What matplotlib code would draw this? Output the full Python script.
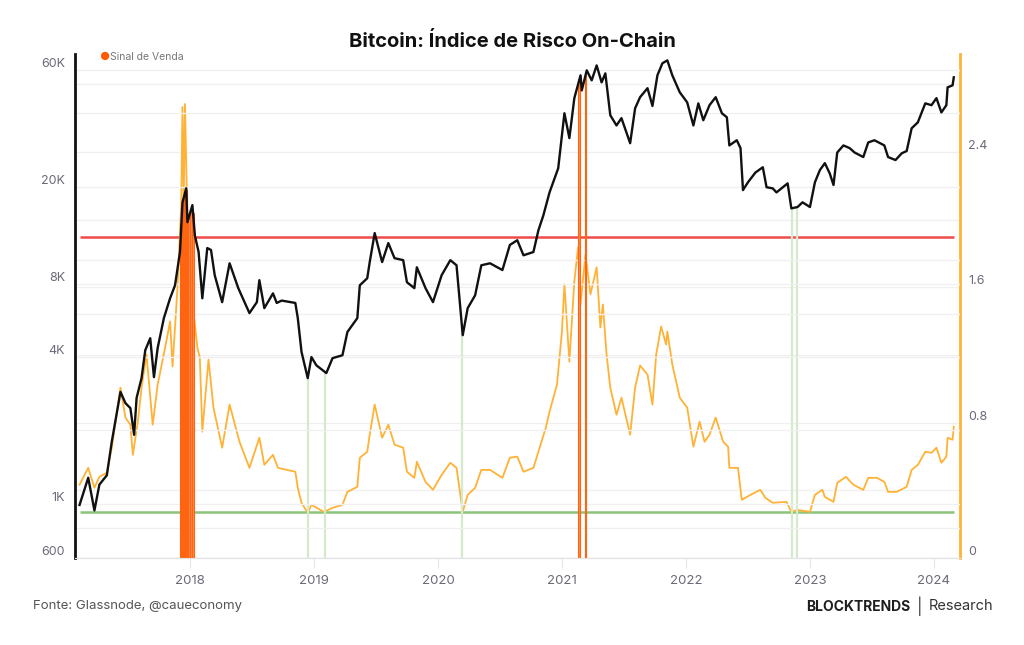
import numpy as np
import matplotlib
matplotlib.use("Agg")
import matplotlib.pyplot as plt
from matplotlib.ticker import NullLocator

plt.rcParams['font.family'] = ['Inter', 'DejaVu Sans']

# BTC price (USD), dates in decimal years
price_dates = [2017.11, 2017.18, 2017.23, 2017.27, 2017.33, 2017.37, 2017.44, 2017.48, 2017.52, 2017.55,
               2017.57, 2017.61, 2017.64, 2017.68, 2017.71, 2017.74, 2017.79, 2017.84, 2017.88, 2017.92,
               2017.94, 2017.97, 2017.98, 2018.02, 2018.04, 2018.07, 2018.10, 2018.14, 2018.17, 2018.20,
               2018.26, 2018.32, 2018.39, 2018.48, 2018.54, 2018.56, 2018.60, 2018.67, 2018.70, 2018.74,
               2018.85, 2018.87, 2018.90, 2018.95, 2018.98, 2019.02, 2019.10, 2019.15, 2019.23, 2019.27,
               2019.35, 2019.37, 2019.43, 2019.45, 2019.49, 2019.55, 2019.60, 2019.65, 2019.72, 2019.75,
               2019.81, 2019.83, 2019.90, 2019.96, 2020.03, 2020.10, 2020.15, 2020.20, 2020.24, 2020.30,
               2020.35, 2020.42, 2020.52, 2020.58, 2020.64, 2020.69, 2020.77, 2020.81, 2020.85, 2020.90,
               2020.97, 2021.02, 2021.06, 2021.10, 2021.15, 2021.16, 2021.20, 2021.24, 2021.28, 2021.32,
               2021.35, 2021.39, 2021.44, 2021.48, 2021.55, 2021.59, 2021.63, 2021.69, 2021.73, 2021.77,
               2021.81, 2021.85, 2021.89, 2021.95, 2022.01, 2022.06, 2022.10, 2022.14, 2022.19, 2022.24,
               2022.29, 2022.33, 2022.35, 2022.41, 2022.44, 2022.46, 2022.50, 2022.56, 2022.62, 2022.65,
               2022.70, 2022.73, 2022.82, 2022.85, 2022.90, 2022.94, 2023.00, 2023.04, 2023.08, 2023.12,
               2023.16, 2023.19, 2023.22, 2023.27, 2023.32, 2023.36, 2023.43, 2023.47, 2023.52, 2023.60,
               2023.63, 2023.69, 2023.74, 2023.78, 2023.82, 2023.87, 2023.93, 2023.98, 2024.02, 2024.06,
               2024.10, 2024.11, 2024.15, 2024.16]
price_values = [990, 1280, 940, 1200, 1310, 1800, 2880, 2590, 2470, 1920,
                2720, 3280, 4270, 4780, 3310, 4360, 5780, 6970, 7880, 10800,
                17200, 19700, 14300, 16800, 12600, 10800, 6970, 11200, 11000, 8670,
                6720, 9700, 7670, 6060, 6720, 8270, 6350, 7300, 6670, 6820,
                6670, 5780, 4200, 3280, 4000, 3700, 3440, 3960, 4070, 5070,
                5780, 7880, 8420, 9810, 12900, 9810, 11740, 10180, 9990, 8110,
                7670, 9340, 7670, 6720, 8670, 9990, 9520, 4920, 6350, 7170,
                9520, 9700, 9100, 11530, 12060, 10460, 10790, 13230, 15240, 18940,
                23800, 40000, 31630, 46130, 57240, 49620, 59990, 54590, 62850, 53530,
                58300, 39250, 35650, 38190, 30150, 41900, 46550, 50680, 42850, 57240,
                64110, 65910, 57240, 48770, 44330, 35650, 43910, 37450, 43170, 46550,
                39990, 38510, 29520, 31000, 28780, 19360, 20840, 22850, 24020, 19890,
                19680, 18940, 20630, 16290, 16500, 17250, 16500, 20840, 23380, 24970,
                22640, 20310, 27610, 29520, 28780, 27610, 26450, 30360, 31000, 29520,
                26450, 25710, 27400, 28000, 34700, 36710, 43910, 43170, 46130, 40310,
                43170, 51100, 52050, 56180]

# On-chain risk index
risk_dates = [2017.11, 2017.18, 2017.23, 2017.27, 2017.33, 2017.37, 2017.44, 2017.48, 2017.52, 2017.54,
              2017.58, 2017.61, 2017.65, 2017.70, 2017.74, 2017.80, 2017.84, 2017.86, 2017.90, 2017.93,
              2017.94, 2017.95, 2017.96, 2017.98, 2018.02, 2018.06, 2018.08, 2018.10, 2018.15, 2018.19,
              2018.26, 2018.32, 2018.40, 2018.48, 2018.56, 2018.60, 2018.67, 2018.71, 2018.85, 2018.87,
              2018.90, 2018.95, 2018.98, 2019.08, 2019.15, 2019.23, 2019.27, 2019.35, 2019.37, 2019.43,
              2019.45, 2019.49, 2019.55, 2019.60, 2019.65, 2019.72, 2019.75, 2019.81, 2019.83, 2019.90,
              2019.96, 2020.03, 2020.10, 2020.15, 2020.20, 2020.24, 2020.30, 2020.35, 2020.42, 2020.52,
              2020.58, 2020.64, 2020.69, 2020.77, 2020.82, 2020.87, 2020.90, 2020.96, 2021.00, 2021.02,
              2021.06, 2021.10, 2021.13, 2021.15, 2021.19, 2021.23, 2021.28, 2021.31, 2021.33, 2021.36,
              2021.39, 2021.44, 2021.48, 2021.55, 2021.59, 2021.63, 2021.69, 2021.73, 2021.76, 2021.80,
              2021.84, 2021.85, 2021.89, 2021.95, 2022.01, 2022.06, 2022.11, 2022.15, 2022.19, 2022.24,
              2022.30, 2022.34, 2022.35, 2022.42, 2022.45, 2022.52, 2022.60, 2022.64, 2022.70, 2022.81,
              2022.85, 2022.90, 2023.00, 2023.04, 2023.10, 2023.12, 2023.19, 2023.22, 2023.29, 2023.35,
              2023.43, 2023.47, 2023.54, 2023.60, 2023.63, 2023.70, 2023.78, 2023.82, 2023.87, 2023.93,
              2023.98, 2024.02, 2024.06, 2024.10, 2024.11, 2024.15, 2024.16]
risk_values = [0.433, 0.533, 0.415, 0.480, 0.504, 0.652, 1.007, 0.830, 0.788, 0.610,
               0.806, 1.007, 1.203, 0.788, 1.025, 1.244, 1.399, 1.132, 1.600, 2.092,
               2.667, 2.100, 2.684, 1.991, 1.517, 1.244, 1.185, 0.747, 1.173, 0.889,
               0.652, 0.907, 0.687, 0.533, 0.711, 0.551, 0.610, 0.533, 0.510, 0.415,
               0.326, 0.267, 0.314, 0.273, 0.296, 0.314, 0.391, 0.421, 0.593, 0.628,
               0.729, 0.907, 0.711, 0.788, 0.670, 0.652, 0.510, 0.474, 0.569, 0.450,
               0.403, 0.492, 0.563, 0.533, 0.273, 0.373, 0.415, 0.521, 0.521, 0.474,
               0.593, 0.599, 0.510, 0.533, 0.652, 0.770, 0.865, 1.025, 1.339, 1.618,
               1.161, 1.636, 1.837, 1.499, 1.796, 1.559, 1.719, 1.363, 1.499, 1.203,
               1.007, 0.847, 0.948, 0.729, 1.007, 1.138, 1.084, 0.907, 1.203, 1.369,
               1.262, 1.339, 1.144, 0.948, 0.889, 0.658, 0.806, 0.687, 0.729, 0.830,
               0.687, 0.658, 0.533, 0.533, 0.344, 0.373, 0.403, 0.356, 0.326, 0.332,
               0.273, 0.284, 0.273, 0.373, 0.403, 0.361, 0.332, 0.444, 0.480, 0.433,
               0.403, 0.474, 0.474, 0.450, 0.391, 0.391, 0.421, 0.521, 0.551, 0.628,
               0.622, 0.652, 0.563, 0.599, 0.711, 0.699, 0.776]

sell_dates = [2017.930, 2017.936, 2017.942, 2017.948, 2017.954, 2017.960, 2017.966, 2017.972,
              2017.978, 2017.984, 2017.989, 2018.010, 2018.026, 2021.140, 2021.190]
buy_dates = [2018.95, 2019.09, 2020.196, 2022.855, 2022.895]

risk_high = 1.90
risk_low = 0.27

years = [2018, 2019, 2020, 2021, 2022, 2023, 2024]
price_ticks = [600, 800, 1000, 2000, 4000, 6000, 8000, 10000, 20000, 40000, 60000]
price_labels = ['600', '', '1K', '', '4K', '', '8K', '', '20K', '', '60K']
risk_ticks = [0, 0.4, 0.8, 1.2, 1.6, 2.0, 2.4, 2.8]
risk_labels = ['0', '', '0.8', '', '1.6', '', '2.4', '']

fig = plt.figure(figsize=(10.24, 6.45), dpi=100)
ax = fig.add_axes([0.0732, 0.1349, 0.9375 - 0.0732, 0.9163 - 0.1349])
ax2 = ax.twinx()
ax.set_zorder(ax2.get_zorder() + 1)
ax.patch.set_visible(False)

grid_c = '#f0f0f0'
lbl_c = '#6a6a78'

# risk axis (right)
ax2.plot(risk_dates, risk_values, color='#ffb235', lw=1.3, zorder=3)
ax2.hlines([risk_high], risk_dates[0], risk_dates[-1], color='#ef4b4b', lw=1.8, zorder=2)
ax2.hlines([risk_low], risk_dates[0], risk_dates[-1], color='#8cc47a', lw=1.8, zorder=2)
ax2.set_ylim(0, 2.98)
ax2.set_yticks(risk_ticks, risk_labels)
ax2.yaxis.set_minor_locator(NullLocator())
ax2.grid(axis='y', color=grid_c, lw=1, zorder=0)
ax2.set_axisbelow(True)

# price axis (left)
ax.set_yscale('log')
ax.set_ylim(600, 70000)
ax.set_xlim(2017.073, 2024.21)

buy_tops = np.interp(buy_dates, price_dates, price_values)
ax.vlines(buy_dates, 600, buy_tops, color='#d3ebcb', lw=1.6, zorder=1)
sell_tops = np.interp(sell_dates, price_dates, price_values)
ax.bar(sell_dates, sell_tops - 600, bottom=600, width=0.016, facecolor='#ff8a4c',
       edgecolor='#ff6410', lw=0.8, zorder=2)
ax.plot(price_dates, price_values, color='#111111', lw=1.7, zorder=3)

ax.set_yticks(price_ticks, price_labels)
ax.yaxis.set_minor_locator(NullLocator())
ax.grid(axis='y', color=grid_c, lw=1, zorder=0)
ax.set_xticks(years, [str(y) for y in years])
ax.xaxis.set_minor_locator(NullLocator())

for a in (ax, ax2):
    a.spines['top'].set_visible(False)
    a.spines['bottom'].set_color('#e4e4e4')
    a.spines['left'].set_visible(False)
    a.spines['right'].set_visible(False)
ax.spines['left'].set_visible(True)
ax.spines['left'].set_color('#111111')
ax.spines['left'].set_linewidth(2)
ax2.spines['right'].set_visible(True)
ax2.spines['right'].set_color('#ffb235')
ax2.spines['right'].set_linewidth(2)

ax.tick_params(axis='y', length=0, pad=7, labelsize=9, labelcolor=lbl_c)
ax2.tick_params(axis='y', length=0, pad=6, labelsize=9, labelcolor=lbl_c)
ax.tick_params(axis='x', length=7, color='#e6e6e6', pad=5, labelsize=9.5, labelcolor=lbl_c)
for lab in ax.get_yticklabels() + ax2.get_yticklabels():
    lab.set_va('bottom')

fig.text(0.5, 0.935, 'Bitcoin: Índice de Risco On-Chain', ha='center', va='center',
         fontsize=14.5, fontweight='bold', color='#111111')
fig.text(0.1015, 0.912, '●', ha='center', va='center', fontsize=8, color='#ff5a00')
fig.text(0.1075, 0.912, 'Sinal de Venda', ha='left', va='center', fontsize=7.5, color='#777777')

fig.text(0.032, 0.060, 'Fonte: Glassnode, @caueconomy', ha='left', va='center', fontsize=9.5, color='#555555')
fig.text(0.889, 0.059, 'BLOCKTRENDS', ha='right', va='center', fontsize=10, fontweight='bold', color='#1e1e1e')
fig.text(0.898, 0.060, '|', ha='center', va='center', fontsize=12, color='#444444')
fig.text(0.907, 0.060, 'Research', ha='left', va='center', fontsize=10.5, color='#333333')

fig.savefig('out.png', dpi=100, facecolor='white')
